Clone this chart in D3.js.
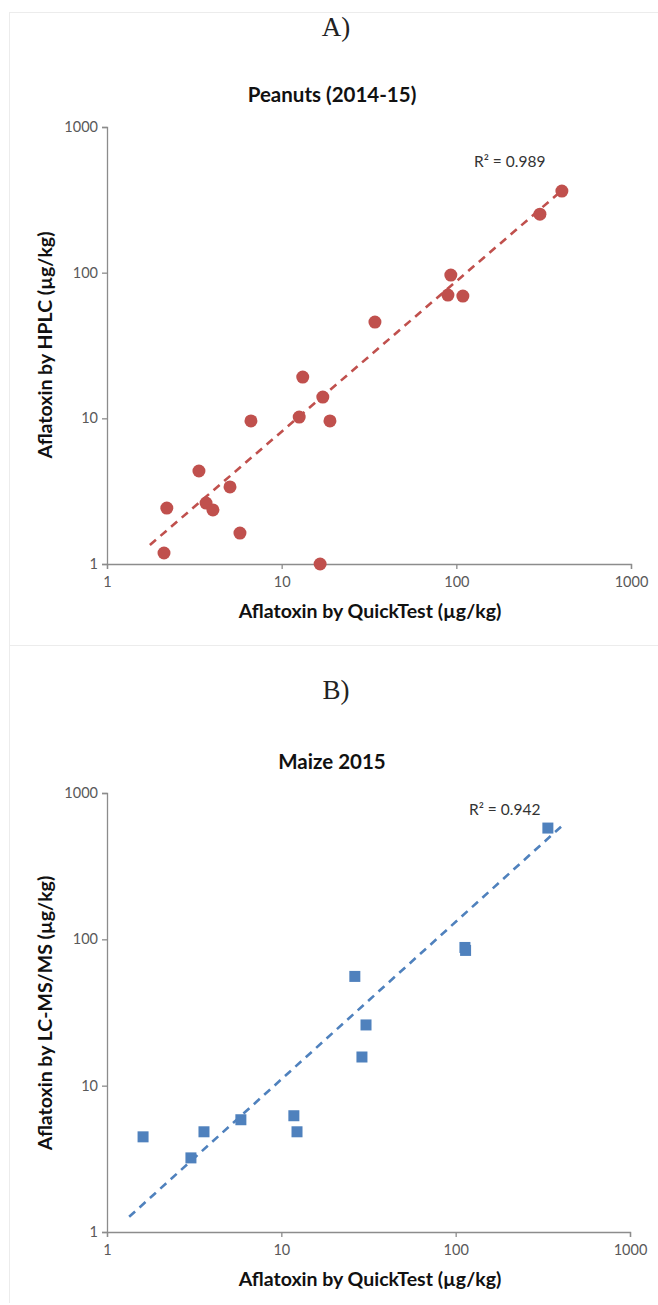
<!DOCTYPE html>
<html>
<head>
<meta charset="utf-8">
<script src="https://cdn.jsdelivr.net/npm/d3@7"></script>
<style>
  body { margin: 0; background: #fff; }
  svg { display: block; }
</style>
</head>
<body>
<script>
// Peanuts (2014-15): QuickTest vs HPLC, ug/kg
var peanutQuick = [2.12, 2.2, 3.36, 3.69, 4.04, 5.06, 5.77, 6.67, 12.6, 13.2, 17.2, 18.9, 16.6, 34.2, 89.5, 93, 109, 301, 402];
var peanutHplc  = [1.19, 2.42, 4.35, 2.62, 2.35, 3.38, 1.63, 9.6, 10.2, 19.2, 14.0, 9.6, 1.0, 45.8, 70.2, 96.3, 69.1, 252, 363];
var peanutTrendX = [1.76, 417];
var peanutTrendY = [1.35, 381];

// Maize 2015: QuickTest vs LC-MS/MS, ug/kg
var maizeQuick = [1.61, 3.03, 3.6, 5.86, 11.8, 12.3, 26.4, 29, 30.6, 113, 114, 338];
var maizeLcms  = [4.47, 3.21, 4.84, 5.85, 6.23, 4.84, 55.8, 15.7, 26, 88, 84, 576];
var maizeTrendX = [1.34, 412];
var maizeTrendY = [1.27, 604];

var tickVals = [1, 10, 100, 1000];

var w = 658, h = 1305;
var svg = d3.select("body").append("svg")
    .attr("width", w)
    .attr("height", h);

var font = "Lato, 'Open Sans', sans-serif";

// faint panel frames
svg.append("path")
    .attr("d", "M9,12.5H658M9.5,12V645M9.5,645.5H658M9.5,645V1303")
    .attr("stroke", "#ececec")
    .attr("fill", "none");

function drawPanel(p) {
    var x = d3.scaleLog().domain([1, 1000]).range([p.left, p.right]);
    var y = d3.scaleLog().domain([1, 1000]).range([p.bottom, p.top]);

    svg.append("text")
        .attr("x", 336).attr("y", p.letterY)
        .attr("text-anchor", "middle")
        .style("font-family", "'Liberation Serif', serif")
        .style("font-size", "27px")
        .style("fill", "#222")
        .text(p.letter);

    svg.append("text")
        .attr("x", 332).attr("y", p.titleY)
        .attr("text-anchor", "middle")
        .style("font-family", font)
        .style("font-weight", "bold")
        .style("font-size", "20.5px")
        .style("fill", "#111")
        .text(p.title);

    var xAxis = d3.axisBottom(x).tickValues(tickVals).tickFormat(d3.format("d")).tickSizeOuter(0).tickSize(5);
    var yAxis = d3.axisLeft(y).tickValues(tickVals).tickFormat(d3.format("d")).tickSizeOuter(0).tickSize(5);

    var gx = svg.append("g")
        .attr("transform", "translate(0," + p.bottom + ")")
        .call(xAxis);
    var gy = svg.append("g")
        .attr("transform", "translate(" + p.left + ",0)")
        .call(yAxis);

    [gx, gy].forEach(function (g) {
        g.selectAll("path, line").attr("stroke", "#8c8c8c").attr("stroke-width", 1.3);
        g.selectAll("text")
            .style("font-family", font)
            .style("font-size", "14.5px")
            .style("fill", "#595959");
    });
    gx.selectAll("text").attr("dy", "1.05em");
    gy.selectAll("text").attr("x", -9);

    svg.append("text")
        .attr("x", 370).attr("y", p.bottom + 54)
        .attr("text-anchor", "middle")
        .style("font-family", font)
        .style("font-weight", "bold")
        .style("font-size", "19.5px")
        .style("fill", "#111")
        .text("Aflatoxin by QuickTest (µg/kg)");

    svg.append("text")
        .attr("transform", "translate(52," + p.ylabY + ") rotate(-90)")
        .attr("text-anchor", "middle")
        .style("font-family", font)
        .style("font-weight", "bold")
        .style("font-size", "19.5px")
        .style("fill", "#111")
        .text(p.ylab);

    // trendline
    var line = d3.line()
        .x(function (d) { return x(d[0]); })
        .y(function (d) { return y(d[1]); });
    svg.append("path")
        .datum(d3.zip(p.trendX, p.trendY))
        .attr("d", line)
        .attr("fill", "none")
        .attr("stroke", p.color)
        .attr("stroke-width", 2.6)
        .attr("stroke-dasharray", "8,6");

    var pts = d3.zip(p.xs, p.ys);
    if (p.shape === "circle") {
        svg.selectAll(null)
            .data(pts)
            .enter()
            .append("circle")
            .attr("cx", function (d) { return x(d[0]); })
            .attr("cy", function (d) { return y(d[1]); })
            .attr("r", 6.5)
            .attr("fill", p.color);
    } else {
        svg.selectAll(null)
            .data(pts)
            .enter()
            .append("rect")
            .attr("x", function (d) { return x(d[0]) - 5.5; })
            .attr("y", function (d) { return y(d[1]) - 5.5; })
            .attr("width", 11)
            .attr("height", 11)
            .attr("fill", p.color);
    }

    svg.append("text")
        .attr("x", p.r2X).attr("y", p.r2Y)
        .style("font-family", font)
        .style("font-size", "15.5px")
        .style("fill", "#333")
        .text(p.r2);
}

drawPanel({
    letter: "A)", letterY: 36, title: "Peanuts (2014-15)", titleY: 102,
    left: 107, right: 631, top: 127, bottom: 564,
    ylab: "Aflatoxin by HPLC (µg/kg)", ylabY: 345,
    xs: peanutQuick, ys: peanutHplc, trendX: peanutTrendX, trendY: peanutTrendY,
    color: "#C0504D", shape: "circle",
    r2: "R² = 0.989", r2X: 474, r2Y: 167
});

drawPanel({
    letter: "B)", letterY: 699, title: "Maize 2015", titleY: 769,
    left: 107, right: 630, top: 793, bottom: 1232,
    ylab: "Aflatoxin by LC-MS/MS (µg/kg)", ylabY: 1013,
    xs: maizeQuick, ys: maizeLcms, trendX: maizeTrendX, trendY: maizeTrendY,
    color: "#4F81BD", shape: "square",
    r2: "R² = 0.942", r2X: 469, r2Y: 815
});
</script>
</body>
</html>
